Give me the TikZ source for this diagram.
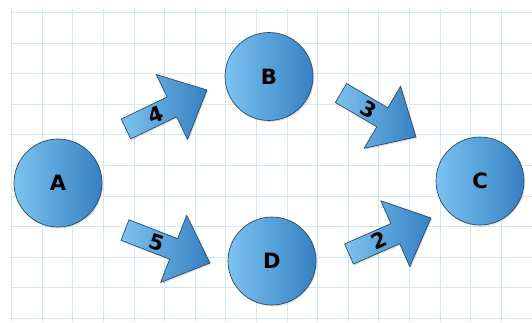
\documentclass[tikz,border=0pt]{standalone}
\usepackage{fontspec}
\setmainfont{DejaVu Sans}
\usetikzlibrary{calc,shadows}
\definecolor{gridblue}{HTML}{D3E7F1}
\definecolor{balllight}{HTML}{7CC3F0}
\definecolor{balldark}{HTML}{3580C2}
\definecolor{edgenavy}{HTML}{2C4A66}
\tikzset{
  ball style/.style={circle, draw=edgenavy, thin, minimum size=1.76cm,
    left color=balllight, right color=balldark, font=\bfseries\fontsize{12}{12}\selectfont,
    drop shadow={opacity=0.25, shadow xshift=0.6pt, shadow yshift=-0.8pt}},
  arr style/.style={draw=edgenavy, thin, line join=round,
    left color=balllight, right color=balldark,
    drop shadow={opacity=0.25, shadow xshift=0.6pt, shadow yshift=-0.8pt}},
  num style/.style={inner sep=0pt, font=\bfseries\fontsize{12}{12}\selectfont},
  grid style/.style={gridblue, line width=0.6pt}
}
% block arrow from tail #1 to tip #2, label #3 turned by #4
\newcommand{\blockarrow}[4]{%
  \coordinate (#1base) at ($(#2)!0.78cm!(#1)$);
  \draw[arr style] ($(#1)!0.22cm!90:(#2)$) -- ($(#1base)!0.22cm!-90:(#1)$)
    -- ($(#1base)!0.72cm!-90:(#1)$) -- (#2) -- ($(#1base)!0.72cm!90:(#1)$)
    -- ($(#1base)!0.22cm!90:(#1)$) -- ($(#1)!0.22cm!-90:(#2)$) -- cycle;
  \node[num style, rotate=#4] (n#3) at ($(#1)!0.37!(#2)$) {#3};
}

\begin{document}
\begin{tikzpicture}[x=0.02cm, y=0.02cm]
\useasboundingbox[fill=white] (0,0) rectangle (532,322);
\foreach \i in {0,...,16} \draw[grid style] (11.7+30.6*\i,0) -- (11.7+30.6*\i,313);
\foreach \j in {0,...,10} \draw[grid style] (10,309.5-30.6*\j) -- (532,309.5-30.6*\j);

\node[ball style] (A) at (58,139) {A};
\node[ball style] (B) at (269,245.5) {B};
\node[ball style] (C) at (480,141) {C};
\node[ball style] (D) at (272,61) {D};

\coordinate (ab tail) at (126,193);
\coordinate (ab tip) at (207,232);
\coordinate (bc tail) at (341,229);
\coordinate (bc tip) at (416,185);
\coordinate (ad tail) at (125,92);
\coordinate (ad tip) at (210,59);
\coordinate (dc tail) at (349,68);
\coordinate (dc tip) at (431,104);

\blockarrow{ab tail}{ab tip}{4}{20}
\blockarrow{bc tail}{bc tip}{3}{-30}
\blockarrow{ad tail}{ad tip}{5}{-18}
\blockarrow{dc tail}{dc tip}{2}{24}
\end{tikzpicture}
\end{document}
